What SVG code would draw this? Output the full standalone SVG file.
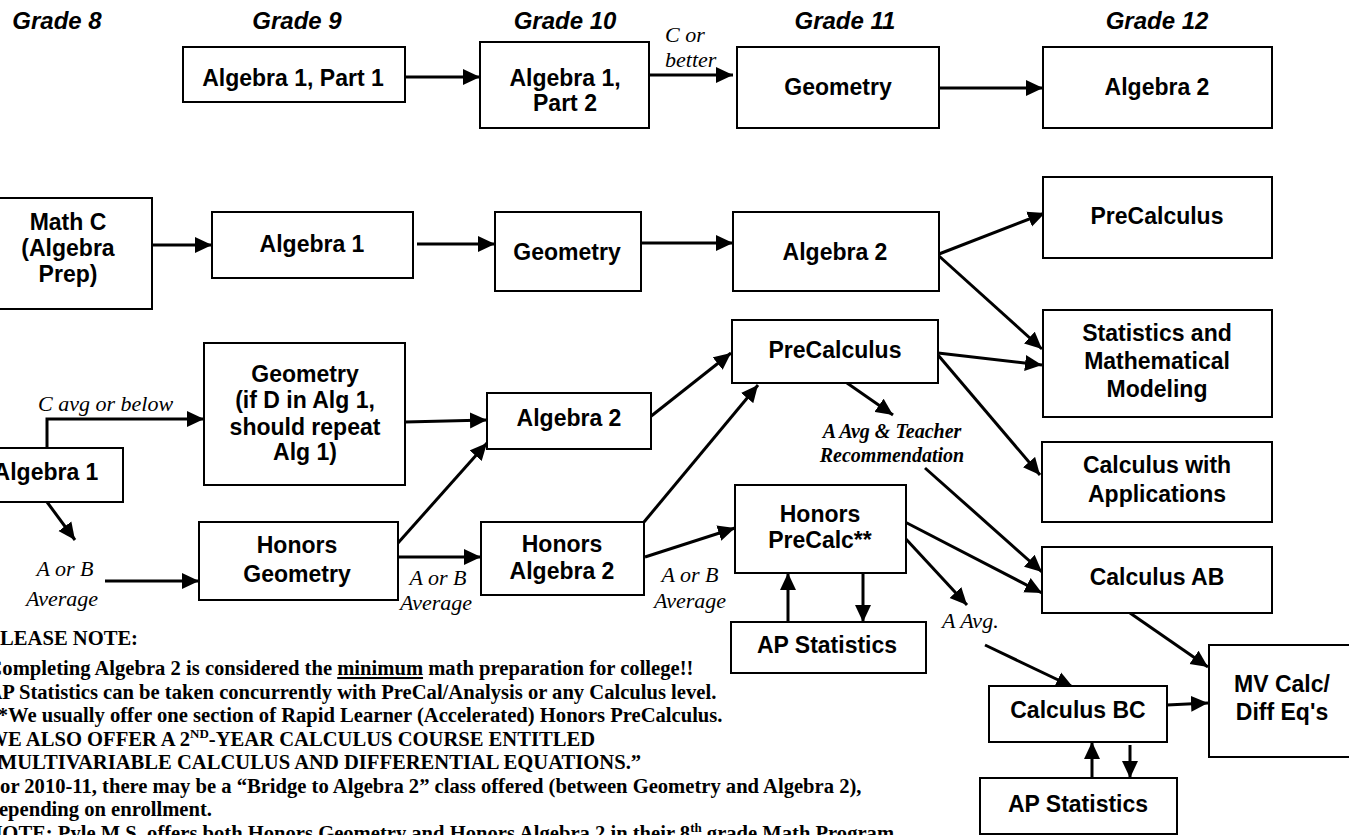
<svg xmlns="http://www.w3.org/2000/svg" width="1349" height="835" viewBox="0 0 1349 835">
<style>
.box{fill:#fff;stroke:#000;stroke-width:2}
.t{font-family:"Liberation Sans",Arial,sans-serif;font-weight:bold;font-size:23px;text-anchor:middle;fill:#000}
.hdr{font-family:"Liberation Sans",Arial,sans-serif;font-weight:bold;font-style:italic;font-size:24px;text-anchor:middle;fill:#000}
.lbl{font-family:"Liberation Serif","Times New Roman",serif;font-style:italic;font-size:22px;fill:#000}
.lblb{font-family:"Liberation Serif","Times New Roman",serif;font-style:italic;font-weight:bold;font-size:20px;fill:#000;text-anchor:middle}
.note{font-family:"Liberation Serif","Times New Roman",serif;font-weight:bold;font-size:20.6px;fill:#000}
.conn line,.conn path{stroke:#000;stroke-width:3;fill:none;marker-end:url(#ah)}
</style>
<defs>
<marker id="ah" markerUnits="userSpaceOnUse" markerWidth="17" markerHeight="17" viewBox="0 0 17 17" refX="17" refY="8.5" orient="auto">
<path d="M0,0.5 L17,8.5 L0,16.5 z" fill="#000"/>
</marker>
</defs>
<rect width="1349" height="835" fill="#fff"/>

<g id="headers">
<text class="hdr" x="57" y="29">Grade 8</text>
<text class="hdr" x="297" y="29">Grade 9</text>
<text class="hdr" x="565" y="29">Grade 10</text>
<text class="hdr" x="845" y="29">Grade 11</text>
<text class="hdr" x="1157" y="29">Grade 12</text>
</g>

<g id="connectors" class="conn">
<line x1="405" y1="77" x2="480" y2="77"/>
<line x1="649" y1="75" x2="733" y2="75"/>
<line x1="939" y1="88" x2="1043" y2="88"/>
<line x1="152" y1="245" x2="212" y2="245"/>
<line x1="417" y1="244" x2="495" y2="244"/>
<line x1="641" y1="243" x2="733" y2="243"/>
<line x1="939" y1="254" x2="1045" y2="213"/>
<line x1="939" y1="256" x2="1042" y2="349"/>
<path d="M47,448 V419 H204"/>
<line x1="405" y1="422" x2="487" y2="420"/>
<line x1="650" y1="417" x2="731" y2="353"/>
<line x1="938" y1="353" x2="1042" y2="365"/>
<line x1="938" y1="355" x2="1040" y2="475"/>
<line x1="847" y1="383" x2="893" y2="415"/>
<line x1="925" y1="468" x2="1042" y2="572"/>
<line x1="47" y1="502" x2="75" y2="540"/>
<line x1="105" y1="581" x2="199" y2="581"/>
<line x1="398" y1="543" x2="487" y2="443"/>
<line x1="398" y1="557" x2="481" y2="557"/>
<line x1="644" y1="522" x2="758" y2="385"/>
<line x1="645" y1="557" x2="735" y2="528"/>
<line x1="905" y1="522" x2="1042" y2="593"/>
<line x1="905" y1="538" x2="967" y2="605"/>
<line x1="985" y1="645" x2="1073" y2="687"/>
<line x1="788" y1="622" x2="788" y2="573"/>
<line x1="863" y1="573" x2="863" y2="622"/>
<line x1="1130" y1="613" x2="1208" y2="667"/>
<line x1="1167" y1="705" x2="1208" y2="703"/>
<line x1="1092" y1="778" x2="1092" y2="742"/>
<line x1="1130" y1="745" x2="1130" y2="778"/>
</g>

<g id="labels">
<text class="lbl" x="665" y="42">C or</text>
<text class="lbl" x="665" y="67">better</text>
<text class="lbl" x="38" y="411">C avg or below</text>
<text class="lblb" x="892" y="438">A Avg &amp; Teacher</text>
<text class="lblb" x="892" y="462">Recommendation</text>
<text class="lbl" x="65" y="576" text-anchor="middle">A or B</text>
<text class="lbl" x="62" y="606" text-anchor="middle">Average</text>
<text class="lbl" x="438" y="585" text-anchor="middle">A or B</text>
<text class="lbl" x="436" y="610" text-anchor="middle">Average</text>
<text class="lbl" x="690" y="582" text-anchor="middle">A or B</text>
<text class="lbl" x="690" y="608" text-anchor="middle">Average</text>
<text class="lbl" x="942" y="628">A Avg.</text>
</g>

<g id="n-alg1p1"><rect class="box" x="183" y="47" width="222" height="55"/><text class="t" x="293" y="86">Algebra 1, Part 1</text></g>
<g id="n-alg1p2"><rect class="box" x="480" y="42" width="169" height="86"/><text class="t" x="565" y="86">Algebra 1,</text><text class="t" x="565" y="111">Part 2</text></g>
<g id="n-geo-top"><rect class="box" x="737" y="47" width="202" height="81"/><text class="t" x="838" y="95">Geometry</text></g>
<g id="n-alg2-top"><rect class="box" x="1043" y="47" width="229" height="81"/><text class="t" x="1157" y="95">Algebra 2</text></g>

<g id="n-mathc"><rect class="box" x="-2" y="198" width="154" height="111"/><text class="t" x="68" y="230">Math C</text><text class="t" x="68" y="256">(Algebra</text><text class="t" x="68" y="282">Prep)</text></g>
<g id="n-alg1-r2"><rect class="box" x="212" y="212" width="201" height="66"/><text class="t" x="312" y="252">Algebra 1</text></g>
<g id="n-geo-r2"><rect class="box" x="495" y="212" width="146" height="79"/><text class="t" x="567" y="260">Geometry</text></g>
<g id="n-alg2-r2"><rect class="box" x="733" y="212" width="206" height="79"/><text class="t" x="835" y="260">Algebra 2</text></g>
<g id="n-precalc-r"><rect class="box" x="1043" y="177" width="229" height="81"/><text class="t" x="1157" y="224">PreCalculus</text></g>
<g id="n-stats"><rect class="box" x="1043" y="310" width="229" height="107"/><text class="t" x="1157" y="341">Statistics and</text><text class="t" x="1157" y="369">Mathematical</text><text class="t" x="1157" y="397">Modeling</text></g>
<g id="n-calcapp"><rect class="box" x="1042" y="442" width="230" height="80"/><text class="t" x="1157" y="473">Calculus with</text><text class="t" x="1157" y="502">Applications</text></g>

<g id="n-alg1-g8"><rect class="box" x="-2" y="448" width="125" height="54"/><text class="t" x="46" y="480">Algebra 1</text></g>
<g id="n-geo-d"><rect class="box" x="204" y="343" width="201" height="142"/><text class="t" x="305" y="382">Geometry</text><text class="t" x="305" y="408">(if D in Alg 1,</text><text class="t" x="305" y="435">should repeat</text><text class="t" x="305" y="460">Alg 1)</text></g>
<g id="n-alg2-r3"><rect class="box" x="487" y="393" width="164" height="56"/><text class="t" x="569" y="426">Algebra 2</text></g>
<g id="n-precalc-mid"><rect class="box" x="732" y="320" width="206" height="63"/><text class="t" x="835" y="358">PreCalculus</text></g>
<g id="n-hgeo"><rect class="box" x="199" y="522" width="199" height="78"/><text class="t" x="297" y="553">Honors</text><text class="t" x="297" y="582">Geometry</text></g>
<g id="n-halg2"><rect class="box" x="481" y="522" width="163" height="73"/><text class="t" x="562" y="552">Honors</text><text class="t" x="562" y="579">Algebra 2</text></g>
<g id="n-hprecalc"><rect class="box" x="735" y="485" width="171" height="88"/><text class="t" x="820" y="522">Honors</text><text class="t" x="820" y="548">PreCalc**</text></g>
<g id="n-apstats1"><rect class="box" x="731" y="622" width="195" height="51"/><text class="t" x="827" y="653">AP Statistics</text></g>
<g id="n-calcab"><rect class="box" x="1042" y="547" width="230" height="66"/><text class="t" x="1157" y="585">Calculus AB</text></g>
<g id="n-calcbc"><rect class="box" x="989" y="686" width="178" height="56"/><text class="t" x="1078" y="718">Calculus BC</text></g>
<g id="n-mvcalc"><rect class="box" x="1209" y="645" width="142" height="112"/><text class="t" x="1282" y="692">MV Calc/</text><text class="t" x="1282" y="720">Diff Eq's</text></g>
<g id="n-apstats2"><rect class="box" x="980" y="778" width="197" height="56"/><text class="t" x="1078" y="812">AP Statistics</text></g>

<g id="notes">
<text class="note" x="-12.5" y="645">PLEASE NOTE:</text>
<text class="note" x="-12.5" y="675">Completing Algebra 2 is considered the <tspan text-decoration="underline">minimum</tspan> math preparation for college!!</text>
<text class="note" x="-12.5" y="698.5">AP Statistics can be taken concurrently with PreCal/Analysis or any Calculus level.</text>
<text class="note" x="-12.5" y="722">**We usually offer one section of Rapid Learner (Accelerated) Honors PreCalculus.</text>
<text class="note" x="-12.5" y="745.5">WE ALSO OFFER A 2<tspan font-size="13" dy="-8">ND</tspan><tspan dy="8">-YEAR CALCULUS COURSE ENTITLED</tspan></text>
<text class="note" x="-12.5" y="769">“MULTIVARIABLE CALCULUS AND DIFFERENTIAL EQUATIONS.”</text>
<text class="note" x="-12.5" y="792.5">For 2010-11, there may be a “Bridge to Algebra 2” class offered (between Geometry and Algebra 2),</text>
<text class="note" x="-12.5" y="816">depending on enrollment.</text>
<text class="note" x="-12.5" y="840">NOTE: Pyle M.S. offers both Honors Geometry and Honors Algebra 2 in their 8<tspan font-size="13" dy="-8">th</tspan><tspan dy="8"> grade Math Program.</tspan></text>
</g>
</svg>
